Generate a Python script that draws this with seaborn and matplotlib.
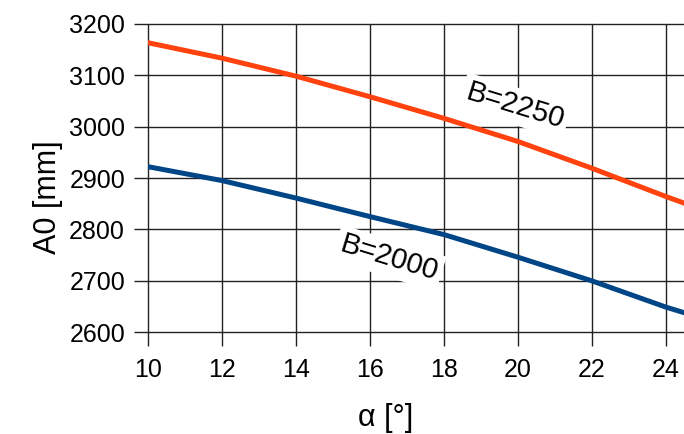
import matplotlib
matplotlib.use("Agg")
import matplotlib.pyplot as plt
import seaborn as sns
import pandas as pd

alpha = [10, 12, 14, 16, 18, 20, 22, 24, 24.5]
a0_b2250 = [3163, 3133, 3098, 3058, 3016, 2971, 2919, 2864, 2851]
a0_b2000 = [2922, 2895, 2861, 2825, 2790, 2746, 2700, 2649, 2638]
series_names = ["B=2250", "B=2000"]
colors = ["#ff420e", "#004586"]
x_ticks = [10, 12, 14, 16, 18, 20, 22, 24]
y_ticks = [2600, 2700, 2800, 2900, 3000, 3100, 3200]

df = pd.DataFrame({
    "alpha": alpha * 2,
    "A0": a0_b2250 + a0_b2000,
    "B": [series_names[0]] * len(alpha) + [series_names[1]] * len(alpha),
})

sns.set_style("white")
plt.rcParams["font.family"] = ["Liberation Sans", "DejaVu Sans"]
for k in ["text.color", "axes.labelcolor", "xtick.color", "ytick.color"]:
    plt.rcParams[k] = "black"

fig = plt.figure(figsize=(6.84, 4.34), dpi=100)
ax = fig.add_axes([148 / 684, 1 - 332.3 / 434, 1 - 148 / 684, (332.3 - 23.7) / 434])

sns.lineplot(data=df, x="alpha", y="A0", hue="B", palette=colors,
             linewidth=3.6, ax=ax, legend=False, zorder=3)

ax.set_xlim(10, 24.49)
ax.set_ylim(2600, 3200)
ax.set_xticks(x_ticks)
ax.set_yticks(y_ticks)
ax.grid(True, color="#222222", linewidth=1.0, zorder=0)
ax.set_axisbelow(True)
for line in ax.get_xgridlines() + ax.get_ygridlines():
    line.set_clip_on(False)
for s in ["top", "right", "bottom", "left"]:
    ax.spines[s].set_visible(False)
ax.tick_params(axis="both", which="both", direction="out", length=10, width=1.0,
               color="#222222", labelsize=18, bottom=True, left=True)
ax.tick_params(axis="x", pad=8.6)
ax.tick_params(axis="y", pad=6.5)

ax.set_xlabel("α [°]", fontsize=22)
ax.set_ylabel("A0 [mm]", fontsize=22)
ax.xaxis.set_label_coords(0.444, -0.228)
ax.yaxis.set_label_coords(-0.158, 0.438)

bbox = dict(boxstyle="square,pad=0.15", facecolor="white", edgecolor="none")
ax.text(19.92, 3040, series_names[0], fontsize=21, rotation=-17, ha="center",
        va="center", bbox=bbox, zorder=2, rotation_mode="anchor")
ax.text(16.51, 2744, series_names[1], fontsize=21, rotation=-17, ha="center",
        va="center", bbox=bbox, zorder=2, rotation_mode="anchor")

fig.savefig("out.png", dpi=100)
